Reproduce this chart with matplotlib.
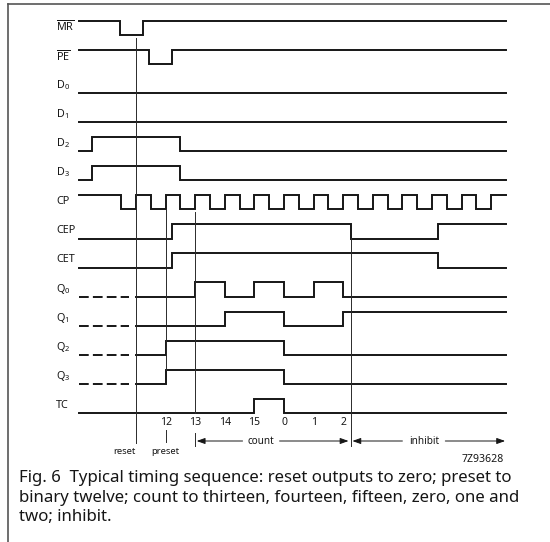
import matplotlib
matplotlib.use("Agg")
import matplotlib.pyplot as plt

FONT = "Noto Sans"
plt.rcParams["font.family"] = [FONT, "DejaVu Sans"]
plt.rcParams["mathtext.fontset"] = "custom"
plt.rcParams["mathtext.rm"] = FONT
plt.rcParams["mathtext.it"] = FONT + ":italic"
plt.rcParams["mathtext.bf"] = FONT + ":bold"
plt.rcParams["lines.scale_dashes"] = False

# ---------------- data (time in clock periods, t=0 at reset edge) ----------------
signal_labels = [r"$\overline{\mathrm{MR}}$", r"$\overline{\mathrm{PE}}$", r"D$_0$", r"D$_1$",
                 r"D$_2$", r"D$_3$", "CP", "CEP", "CET", r"Q$_0$", r"Q$_1$", r"Q$_2$", r"Q$_3$", "TC"]
initial_levels = [1, 1, 0, 0, 0, 0, 1, 0, 0, 0, 0, 0, 0, 0]
mr_edges = [-0.55, 0.25]
pe_edges = [0.45, 1.2]
d0_edges = []
d1_edges = []
d2_edges = [-1.5, 1.5]
d3_edges = [-1.5, 1.5]
cp_edges = [-0.5, 0.0, 0.5, 1.0, 1.5, 2.0, 2.5, 3.0, 3.5, 4.0, 4.5, 5.0, 5.5, 6.0,
            6.5, 7.0, 7.5, 8.0, 8.5, 9.0, 9.5, 10.0, 10.5, 11.0, 11.5, 12.0]
cep_edges = [1.2, 7.25, 10.2]
cet_edges = [1.2, 10.2]
q0_edges = [2, 3, 4, 5, 6, 7]
q1_edges = [3, 5, 7]
q2_edges = [1, 5]
q3_edges = [1, 5]
tc_edges = [4, 5]
all_edges = [mr_edges, pe_edges, d0_edges, d1_edges, d2_edges, d3_edges, cp_edges,
             cep_edges, cet_edges, q0_edges, q1_edges, q2_edges, q3_edges, tc_edges]
undefined_before_reset = [False] * 9 + [True, True, True, True, False]

t_start, t_end = -1.93, 12.5
count_values = ["12", "13", "14", "15", "0", "1", "2"]
count_times = [1, 2, 3, 4, 5, 6, 7]
t_reset, t_preset, t_count, t_inhibit = 0.0, 1.0, 2.0, 7.25

caption = ["Fig. 6  Typical timing sequence: reset outputs to zero; preset to",
           "binary twelve; count to thirteen, fourteen, fifteen, zero, one and",
           "two; inhibit."]

# ---------------- layout ----------------
W, H = 550, 542
X0, DX = 136.0, 29.6     # pixel of t=0, pixels per clock period
Y0, DY = 35.0, 29.08     # pixel of first row low level, pixels per row
AMP = 0.49               # high level offset in row units

fig = plt.figure(figsize=(5.5, 5.42), dpi=100)
ov = fig.add_axes([0, 0, 1, 1])
ov.set_xlim(0, W); ov.set_ylim(H, 0); ov.axis("off")
ax = fig.add_axes([0, 0, 1, 1])
ax.set_xlim(-X0 / DX, (W - X0) / DX)
ax.set_ylim((H - Y0) / DY, -Y0 / DY)
ax.axis("off")

ink = "#161616"
thin = "#2a2a2a"

# frame
ov.plot([8, 8], [4, H], color="#555555", lw=1.2)
ov.plot([8, W], [4, 4], color="#555555", lw=1.2)

for i, (lab, lvl, edges, undef) in enumerate(zip(signal_labels, initial_levels, all_edges,
                                                   undefined_before_reset)):
    def yv(l):
        return i - AMP * l
    if undef:
        ax.plot([t_start, -0.25], [yv(0), yv(0)], color=ink, lw=1.4, ls=(0, (7.0, 3.0)),
                solid_capstyle="butt")
        t0 = t_reset
    else:
        t0 = t_start
    xs, ys = [t0], [yv(lvl)]
    cur = lvl
    for e in edges:
        xs += [e, e]
        ys += [yv(cur), yv(1 - cur)]
        cur = 1 - cur
    xs.append(t_end)
    ys.append(yv(cur))
    ax.plot(xs, ys, color=ink, lw=1.4, solid_joinstyle="miter")
    ax.text(-2.70, i - 0.27, lab, fontsize=7.8, ha="left", va="center", color=ink)

# vertical reference lines
def vline(t, y0p, y1p, **kw):
    ax.plot([t, t], [(y0p - Y0) / DY, (y1p - Y0) / DY], color=thin, lw=0.7, **kw)

vline(t_reset, 38, 443)
vline(t_preset, 209, 370)
vline(t_preset, 430, 442)
vline(t_count, 212, 413)
vline(t_count, 433, 446)
vline(t_inhibit, 238, 446)

# count labels
for v, t in zip(count_values, count_times):
    ax.text(t, (422 - Y0) / DY, v, fontsize=7.5, ha="center", va="center", color=ink)

ax.text(-0.40, (451 - Y0) / DY, "reset", fontsize=6.8, ha="center", va="center", color=ink)
ax.text(0.98, (451 - Y0) / DY, "preset", fontsize=6.8, ha="center", va="center", color=ink)

# arrows
ya = (441 - Y0) / DY
arrow_kw = dict(arrowstyle="-|>,head_length=0.5,head_width=0.18", color=ink, lw=0.7,
                shrinkA=0, shrinkB=0)
ax.annotate("", xy=(t_count + 0.05, ya), xytext=(3.6, ya), arrowprops=arrow_kw)
ax.annotate("", xy=(t_inhibit - 0.07, ya), xytext=(4.85, ya), arrowprops=arrow_kw)
ax.text(4.22, ya, "count", fontsize=7.2, ha="center", va="center", color=ink)
ax.annotate("", xy=(t_inhibit + 0.06, ya), xytext=(9.0, ya), arrowprops=arrow_kw)
ax.annotate("", xy=(t_end - 0.03, ya), xytext=(10.45, ya), arrowprops=arrow_kw)
ax.text(9.73, ya, "inhibit", fontsize=7.2, ha="center", va="center", color=ink)

ax.text(11.7, (459 - Y0) / DY, "7Z93628", fontsize=7.6, ha="center", va="center", color=ink)

for k, line in enumerate(caption):
    ov.text(19, 478 + 19.7 * k, line, fontsize=12.1, ha="left", va="center", color=ink)

fig.savefig("out.png", dpi=100, facecolor="white")
